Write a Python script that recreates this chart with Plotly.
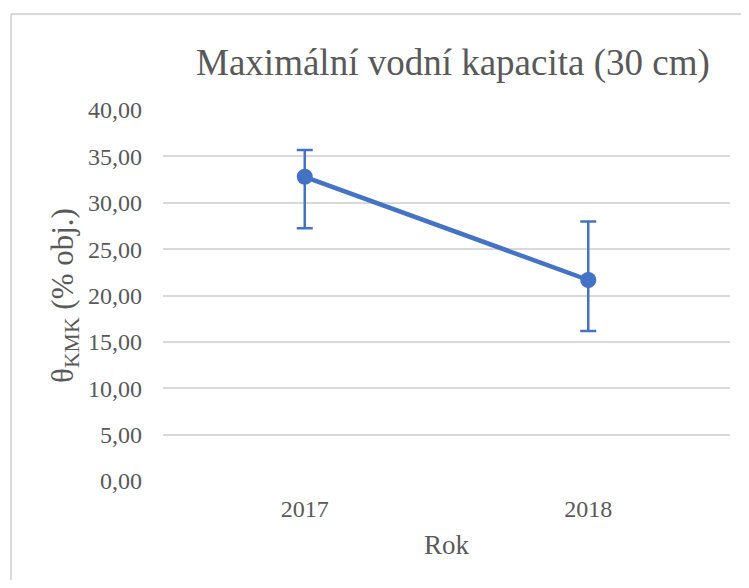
import plotly.graph_objects as go

# data
roky = ["2017", "2018"]
kmk = [32.8, 21.67]
err_plus = [2.9, 6.3]
err_minus = [5.55, 5.5]
y_ticks = [0, 5, 10, 15, 20, 25, 30, 35, 40]
y_labels = ["0,00", "5,00", "10,00", "15,00", "20,00", "25,00", "30,00", "35,00", "40,00"]

BLUE = "#4472c4"
GREY = "#595959"
FONT = "Liberation Serif, Times New Roman, serif"

fig = go.Figure()

fig.add_trace(go.Scatter(
    x=roky,
    y=kmk,
    mode="lines+markers",
    line=dict(color=BLUE, width=4.5),
    marker=dict(color=BLUE, size=16),
    error_y=dict(
        type="data",
        symmetric=False,
        array=err_plus,
        arrayminus=err_minus,
        color=BLUE,
        thickness=2.5,
        width=8,
    ),
    showlegend=False,
))

# chart frame: only top and left edges fall inside the window
border = dict(color="#d9d9d9", width=2)
frame = [
    dict(type="line", xref="paper", yref="paper",
         x0=-0.268, x1=1.1, y0=1.259, y1=1.259, line=border, layer="below"),
    dict(type="line", xref="paper", yref="paper",
         x0=-0.268, x1=-0.268, y0=-0.4, y1=1.259, line=border, layer="below"),
]

# page body has an 8px margin; keep the figure inside the window (no scrollbars)
fig.update_layout(
    width=733,
    height=572,
    paper_bgcolor="white",
    plot_bgcolor="white",
    margin=dict(l=155, r=11, t=102, b=99),
    font=dict(family=FONT, color=GREY, size=24),
    title=dict(
        text="Maximální vodní kapacita (30 cm)",
        font=dict(size=37, color=GREY, family=FONT),
        x=0.607, xanchor="center",
        y=0.9056, yanchor="middle",
    ),
    xaxis=dict(
        title=dict(text="Rok", font=dict(size=27, family=FONT), standoff=14),
        tickfont=dict(size=24, family=FONT),
        showgrid=False,
        showline=False,
        ticks="",
        ticklabelstandoff=11,
        range=[-0.5, 1.5],
        automargin=False,
    ),
    yaxis=dict(
        title=dict(text="θ<sub>KMK</sub> (% obj.)", font=dict(size=31, family=FONT), standoff=5),
        range=[0, 40],
        tickvals=y_ticks,
        ticktext=y_labels,
        tickfont=dict(size=24, family=FONT),
        showgrid=True,
        gridcolor="#d9d9d9",
        gridwidth=1.5,
        zeroline=False,
        showline=False,
        ticks="",
        ticklabelstandoff=20,
        automargin=False,
    ),
    shapes=frame,
)

fig.write_html("out.html")
